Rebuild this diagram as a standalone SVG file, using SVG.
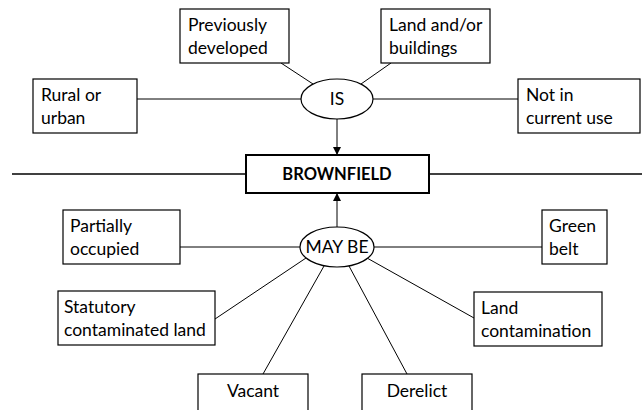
<svg xmlns="http://www.w3.org/2000/svg" width="642" height="410" viewBox="0 0 642 410">
<style>
.box{fill:#fff;stroke:#000;stroke-width:1.2}
.ell{fill:#fff;stroke:#000;stroke-width:1.2}
.ln{stroke:#000;stroke-width:1;fill:none}
.t{font-family:Lato,"Liberation Sans",sans-serif;font-size:17.5px;fill:#000}
.c{text-anchor:middle}
.b{font-weight:bold;font-size:16.5px}
</style>
<defs>
<marker id="ah" viewBox="0 0 10 10" refX="10" refY="5" markerWidth="8" markerHeight="8" markerUnits="userSpaceOnUse" orient="auto">
<path d="M0,0 L10,5 L0,10 Z" fill="#000"/>
</marker>
</defs>
<rect width="642" height="410" fill="#fff"/>
<g id="connectors">
<line class="ln" x1="12" y1="174" x2="246" y2="174" style="stroke-width:1.6"/>
<line class="ln" x1="429" y1="174" x2="642" y2="174" style="stroke-width:1.6"/>
<line class="ln" x1="137" y1="99" x2="301" y2="99"/>
<line class="ln" x1="373" y1="99" x2="518" y2="99"/>
<line class="ln" x1="281" y1="63" x2="313" y2="84"/>
<line class="ln" x1="391" y1="63" x2="361" y2="84"/>
<line class="ln" x1="337" y1="119" x2="337" y2="155" marker-end="url(#ah)"/>
<line class="ln" x1="337" y1="227" x2="337" y2="193" marker-end="url(#ah)"/>
<line class="ln" x1="180" y1="247" x2="300" y2="247"/>
<line class="ln" x1="374" y1="247" x2="542" y2="247"/>
<line class="ln" x1="306" y1="258" x2="215" y2="319"/>
<line class="ln" x1="324" y1="266" x2="263" y2="374"/>
<line class="ln" x1="349" y1="266" x2="407" y2="374"/>
<line class="ln" x1="367" y1="258" x2="474" y2="318"/>
</g>
<g id="prev"><rect class="box" x="180" y="9" width="109" height="54"/><text class="t" x="188" y="31">Previously</text><text class="t" x="188" y="54">developed</text></g>
<g id="land"><rect class="box" x="381" y="9" width="109" height="54"/><text class="t" x="389" y="31">Land and/or</text><text class="t" x="389" y="54">buildings</text></g>
<g id="rural"><rect class="box" x="33" y="79" width="104" height="54"/><text class="t" x="41" y="101">Rural or</text><text class="t" x="41" y="124">urban</text></g>
<g id="notuse"><rect class="box" x="518" y="79" width="122" height="54"/><text class="t" x="526" y="101">Not in</text><text class="t" x="526" y="124">current use</text></g>
<g id="is"><ellipse class="ell" cx="337" cy="99" rx="36" ry="20"/><text class="t c" x="337" y="105">IS</text></g>
<g id="brownfield"><rect class="box" x="246" y="155" width="183" height="38" style="stroke-width:2"/><text class="t c b" x="337" y="180">BROWNFIELD</text></g>
<g id="maybe"><ellipse class="ell" cx="337" cy="247" rx="37" ry="20"/><text class="t c" x="337" y="253">MAY BE</text></g>
<g id="partial"><rect class="box" x="63" y="210" width="117" height="54"/><text class="t" x="70" y="232">Partially</text><text class="t" x="70" y="255">occupied</text></g>
<g id="green"><rect class="box" x="542" y="210" width="65" height="54"/><text class="t" x="549" y="232">Green</text><text class="t" x="549" y="255">belt</text></g>
<g id="statutory"><rect class="box" x="58" y="291" width="157" height="54"/><text class="t" x="64" y="313">Statutory</text><text class="t" x="64" y="336">contaminated land</text></g>
<g id="landcont"><rect class="box" x="474" y="292" width="128" height="54"/><text class="t" x="481" y="314">Land</text><text class="t" x="481" y="337">contamination</text></g>
<g id="vacant"><rect class="box" x="198" y="374" width="110" height="50"/><text class="t c" x="253" y="397">Vacant</text></g>
<g id="derelict"><rect class="box" x="362" y="374" width="110" height="50"/><text class="t c" x="417" y="397">Derelict</text></g>
</svg>
